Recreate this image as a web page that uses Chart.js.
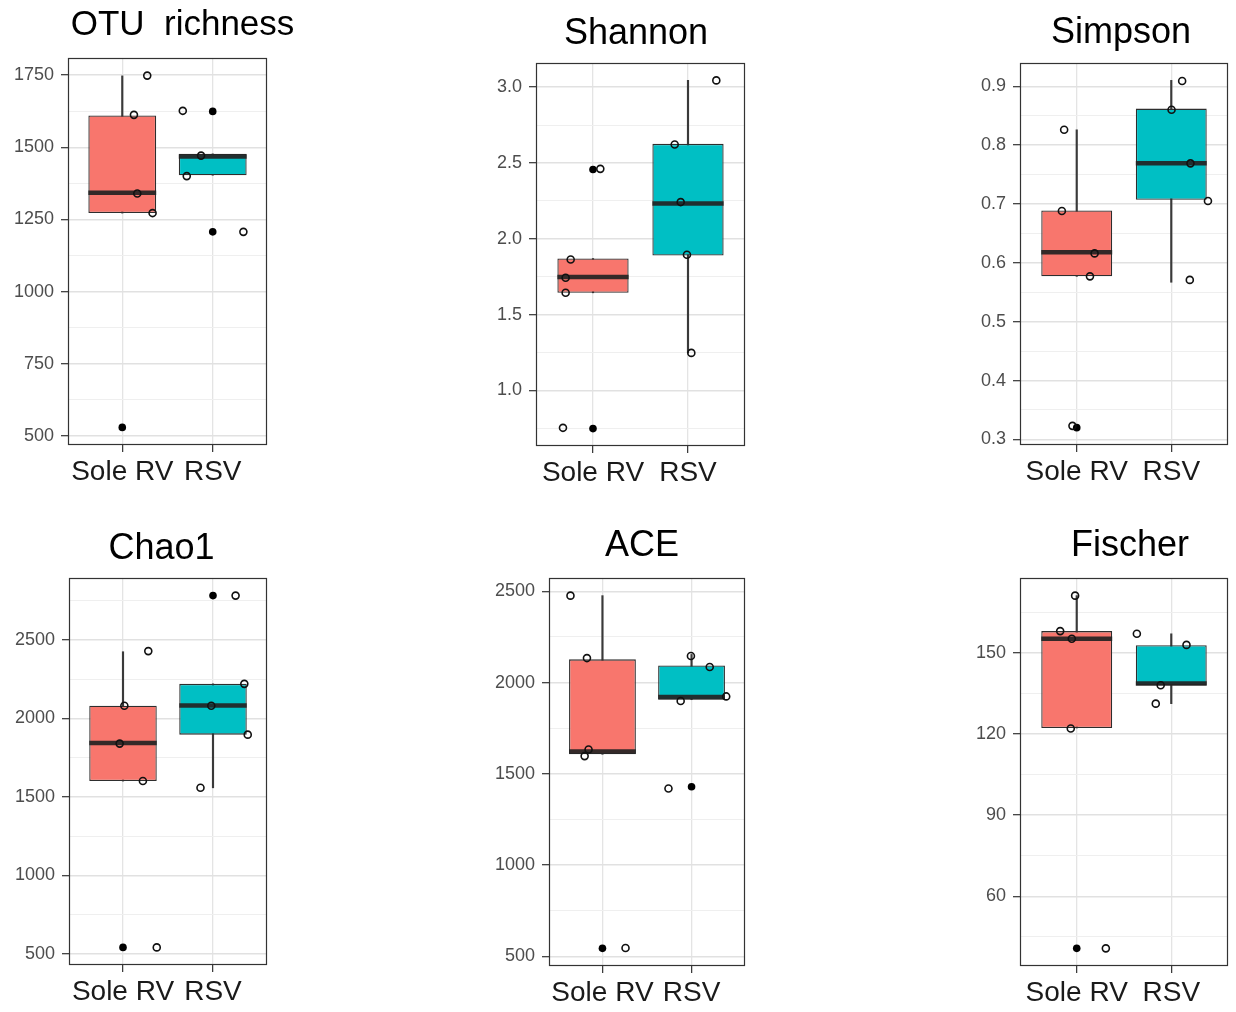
<!DOCTYPE html>
<html>
<head>
<meta charset="utf-8">
<script src="https://cdn.jsdelivr.net/npm/chart.js@4.4.1/dist/chart.umd.min.js"></script>
<style>
html, body { margin: 0; padding: 0; background: #ffffff; width: 1236px; height: 1012px; overflow: hidden; }
.panel { position: absolute; }
</style>
</head>
<body>
<script>
// ---------------- DATA ----------------
const categories = ['Sole RV', 'RSV'];

// OTU richness
const otuTicks = [500, 750, 1000, 1250, 1500, 1750];
const otuTickLabels = ['500', '750', '1000', '1250', '1500', '1750'];
const otuQ1 = [1272, 1403];
const otuMedian = [1342, 1468];
const otuQ3 = [1610, 1477];
const otuWhiskerLow = [1272, 1403];
const otuWhiskerHigh = [1747, 1477];
const otuOutlierGroup = [1, 2, 2];
const otuOutlierValue = [530, 1624, 1207];
const otuJitterX = [1.276, 1.129, 1.166, 1.335, 1.669, 1.871, 1.713, 2.339];
const otuJitterY = [1748, 1612, 1340, 1272, 1626, 1471, 1400, 1207];

// Shannon
const shannonTicks = [1.0, 1.5, 2.0, 2.5, 3.0];
const shannonTickLabels = ['1.0', '1.5', '2.0', '2.5', '3.0'];
const shannonQ1 = [1.644, 1.890];
const shannonMedian = [1.749, 2.233];
const shannonQ3 = [1.870, 2.626];
const shannonWhiskerLow = [1.644, 1.248];
const shannonWhiskerHigh = [1.870, 3.044];
const shannonOutlierGroup = [1, 1];
const shannonOutlierValue = [2.457, 0.749];
const shannonJitterX = [1.077, 0.765, 0.712, 0.712, 0.684, 2.298, 1.860, 1.923, 1.989, 2.035];
const shannonJitterY = [2.461, 1.864, 1.743, 1.644, 0.754, 3.044, 2.622, 2.242, 1.895, 1.248];

// Simpson
const simpsonTicks = [0.3, 0.4, 0.5, 0.6, 0.7, 0.8, 0.9];
const simpsonTickLabels = ['0.3', '0.4', '0.5', '0.6', '0.7', '0.8', '0.9'];
const simpsonQ1 = [0.577, 0.707];
const simpsonMedian = [0.618, 0.769];
const simpsonQ3 = [0.689, 0.862];
const simpsonWhiskerLow = [0.577, 0.567];
const simpsonWhiskerHigh = [0.826, 0.910];
const simpsonOutlierGroup = [1];
const simpsonOutlierValue = [0.320];
const simpsonJitterX = [0.867, 0.843, 1.189, 1.140, 0.955, 2.115, 2.003, 2.203, 2.388, 2.196];
const simpsonJitterY = [0.826, 0.688, 0.616, 0.577, 0.323, 0.909, 0.860, 0.769, 0.705, 0.571];

// Chao1
const chaoTicks = [500, 1000, 1500, 2000, 2500];
const chaoTickLabels = ['500', '1000', '1500', '2000', '2500'];
const chaoQ1 = [1601, 1897];
const chaoMedian = [1844, 2083];
const chaoQ3 = [2081, 2221];
const chaoWhiskerLow = [1601, 1558];
const chaoWhiskerHigh = [2426, 2221];
const chaoOutlierGroup = [1, 2];
const chaoOutlierValue = [540, 2784];
const chaoJitterX = [1.281, 1.015, 0.963, 1.221, 1.375, 2.251, 2.348, 1.981, 2.386, 1.861];
const chaoJitterY = [2430, 2081, 1840, 1601, 540, 2784, 2221, 2081, 1897, 1558];

// ACE
const aceTicks = [500, 1000, 1500, 2000, 2500];
const aceTickLabels = ['500', '1000', '1500', '2000', '2500'];
const aceQ1 = [1607, 1906];
const aceMedian = [1622, 1921];
const aceQ3 = [2127, 2094];
const aceWhiskerLow = [1607, 1906];
const aceWhiskerHigh = [2476, 2154];
const aceOutlierGroup = [1, 2];
const aceOutlierValue = [544, 1429];
const aceJitterX = [0.641, 0.826, 0.844, 0.800, 1.259, 1.741, 1.993, 2.204, 1.878, 2.389];
const aceJitterY = [2476, 2134, 1633, 1597, 546, 1420, 2145, 2085, 1899, 1924];

// Fischer
const fischerTicks = [60, 90, 120, 150];
const fischerTickLabels = ['60', '90', '120', '150'];
const fischerQ1 = [122.2, 138.0];
const fischerMedian = [155.2, 138.6];
const fischerQ3 = [158.0, 152.8];
const fischerWhiskerLow = [122.2, 131.2];
const fischerWhiskerHigh = [171.1, 157.0];
const fischerOutlierGroup = [1];
const fischerOutlierValue = [40.8];
const fischerJitterX = [0.983, 0.825, 0.948, 0.937, 1.308, 1.636, 2.161, 1.888, 1.836];
const fischerJitterY = [171.1, 158.0, 155.2, 122.0, 40.8, 157.0, 152.9, 138.0, 131.2];

// ---------------- STYLE / LAYOUT ----------------
const FILLS = ['#F8766D', '#00BFC4'];
const Y_AXIS_W = 68;
const X_AXIS_H = 46;

Chart.defaults.font.family = "'Liberation Sans', Arial, Helvetica, sans-serif";

const framePlugin = {
  id: 'frame',
  afterDraw(chart) {
    const a = chart.chartArea, ctx = chart.ctx;
    ctx.save();
    ctx.strokeStyle = '#333333';
    ctx.lineWidth = 1.2;
    ctx.strokeRect(Math.round(a.left) + 0.5, Math.round(a.top) + 0.5,
                   Math.round(a.right - a.left) - 1, Math.round(a.bottom - a.top) - 1);
    ctx.restore();
  }
};

function buildPanel(L, titleText, D) {
  const left = L.PL - Y_AXIS_W;
  const top = L.titleY - 21;
  // canvas is made wide enough that a full-width centred title lands on titleX
  const width = Math.max(2 * (L.titleX - left), L.PR - left);
  const rightW = width - (L.PR - left);
  const height = L.PB - top + X_AXIS_H;
  const wrap = document.createElement('div');
  wrap.className = 'panel';
  Object.assign(wrap.style, { left: left + 'px', top: top + 'px', width: width + 'px', height: height + 'px' });
  const cv = document.createElement('canvas');
  wrap.appendChild(cv);
  document.body.appendChild(wrap);

  const all = [].concat(D.jitY, D.outValue, D.wLow, D.wHigh);
  const lo = Math.min(...all), hi = Math.max(...all), pad = (hi - lo) * 0.05;
  const yMin = lo - pad, yMax = hi + pad;

  const step = D.ticks[1] - D.ticks[0];
  const tickObjs = D.ticks.map((v, i) => ({ value: v, lbl: D.tickLabels[i], minor: false }));
  [D.ticks[0] - step / 2].concat(D.ticks.map(v => v + step / 2))
    .filter(v => v > yMin && v < yMax)
    .forEach(v => tickObjs.push({ value: v, lbl: '', minor: true }));
  tickObjs.sort((a, b) => a.value - b.value);

  const ts = L.titleSize;
  const padTop = 21 - ts / 2;
  const padBottom = (L.PT - top) - padTop - ts;

  const halfBox = (ctx) => {
    const xs = ctx.chart.scales.x;
    return Math.abs(xs.getPixelForValue(1.375) - xs.getPixelForValue(0.625)) / 2;
  };

  new Chart(cv, {
    type: 'bar',
    data: {
      datasets: [
        {
          type: 'scatter', label: 'points', order: 0,
          data: D.jitX.map((x, i) => ({ x: x, y: D.jitY[i] })),
          pointRadius: 3.5, pointBorderWidth: 1.6,
          pointBackgroundColor: 'rgba(0,0,0,0)', pointBorderColor: '#111111'
        },
        {
          type: 'scatter', label: 'outliers', order: 1,
          data: D.outGroup.map((g, i) => ({ x: g, y: D.outValue[i] })),
          pointRadius: 3.8, pointBorderWidth: 0,
          pointBackgroundColor: '#000000', pointBorderColor: '#000000'
        },
        {
          type: 'scatter', label: 'median', order: 2,
          data: D.median.map((m, i) => ({ x: i + 1, y: m })),
          pointStyle: 'line', pointRadius: halfBox, pointBorderWidth: 4.5,
          pointBorderColor: 'rgba(35,35,35,0.92)', pointBackgroundColor: 'rgba(0,0,0,0)'
        },
        {
          type: 'bar', label: 'box', order: 3,
          data: D.q1.map((q, i) => ({ x: i + 1, y: [q, D.q3[i]] })),
          backgroundColor: FILLS, borderColor: '#2e2e2e', borderWidth: 1.3,
          borderSkipped: false, grouped: false, barPercentage: 0.75, categoryPercentage: 1
        },
        {
          type: 'bar', label: 'whisker', order: 4,
          data: D.wLow.map((w, i) => ({ x: i + 1, y: [w, D.wHigh[i]] })),
          backgroundColor: '#3a3a3a', borderWidth: 0, grouped: false,
          barPercentage: 1, categoryPercentage: 1, maxBarThickness: 1.5
        }
      ]
    },
    options: {
      responsive: true,
      maintainAspectRatio: false,
      animation: false,
      events: [],
      layout: { padding: 0 },
      plugins: {
        legend: { display: false },
        tooltip: { enabled: false },
        title: {
          display: true, text: titleText, align: 'center', fullSize: true,
          color: '#000000', font: { size: ts, weight: 'normal', lineHeight: 1 },
          padding: { top: padTop, bottom: padBottom }
        }
      },
      scales: {
        x: {
          type: 'linear', min: 0.4, max: 2.6, offset: false,
          afterBuildTicks: (s) => { s.ticks = categories.map((c, i) => ({ value: i + 1 })); },
          afterFit: (s) => { s.height = X_AXIS_H; },
          ticks: {
            autoSkip: false, maxRotation: 0, padding: 3,
            color: '#1a1a1a', font: { size: 28 },
            callback: (v) => categories[Math.round(v) - 1]
          },
          grid: {
            offset: false, color: '#e4e4e4', lineWidth: 1.3,
            tickColor: '#333333', tickWidth: 1.2, tickLength: 7
          },
          border: { display: false }
        },
        y: {
          type: 'linear', position: 'left', min: yMin, max: yMax,
          afterBuildTicks: (s) => { s.ticks = tickObjs.map(t => Object.assign({}, t)); },
          afterFit: (s) => { s.width = Y_AXIS_W; },
          ticks: {
            autoSkip: false, padding: 7, color: '#4d4d4d', font: { size: 18 },
            callback: (v, i, ticks) => ticks[i].lbl
          },
          grid: {
            color: (c) => (c.tick && c.tick.minor) ? '#efefef' : '#e1e1e1',
            lineWidth: (c) => (c.tick && c.tick.minor) ? 1 : 1.4,
            tickColor: (c) => (c.tick && c.tick.minor) ? 'rgba(0,0,0,0)' : '#333333',
            tickWidth: 1.2, tickLength: 7
          },
          border: { display: false }
        },
        spacer: {
          type: 'linear', position: 'right', display: true,
          afterFit: (s) => { s.width = rightW; },
          ticks: { display: false },
          grid: { display: false, drawOnChartArea: false, drawTicks: false },
          border: { display: false }
        }
      }
    },
    plugins: [framePlugin]
  });
}

const panelLayouts = [
  { PL: 68,   PT: 58,  PR: 267,  PB: 445, titleY: 25,  titleX: 182.5, titleSize: 35 },
  { PL: 536,  PT: 63,  PR: 745,  PB: 446, titleY: 34,  titleX: 636,   titleSize: 36 },
  { PL: 1020, PT: 63,  PR: 1228, PB: 445, titleY: 33,  titleX: 1121,  titleSize: 36 },
  { PL: 69,   PT: 578, PR: 267,  PB: 965, titleY: 549, titleX: 161.5, titleSize: 36 },
  { PL: 549,  PT: 578, PR: 745,  PB: 966, titleY: 546, titleX: 642,   titleSize: 36 },
  { PL: 1020, PT: 578, PR: 1228, PB: 966, titleY: 546, titleX: 1130,  titleSize: 36 }
];

buildPanel(panelLayouts[0], 'OTU  richness', {
  ticks: otuTicks, tickLabels: otuTickLabels, q1: otuQ1, median: otuMedian, q3: otuQ3,
  wLow: otuWhiskerLow, wHigh: otuWhiskerHigh, outGroup: otuOutlierGroup, outValue: otuOutlierValue,
  jitX: otuJitterX, jitY: otuJitterY });
buildPanel(panelLayouts[1], 'Shannon', {
  ticks: shannonTicks, tickLabels: shannonTickLabels, q1: shannonQ1, median: shannonMedian, q3: shannonQ3,
  wLow: shannonWhiskerLow, wHigh: shannonWhiskerHigh, outGroup: shannonOutlierGroup, outValue: shannonOutlierValue,
  jitX: shannonJitterX, jitY: shannonJitterY });
buildPanel(panelLayouts[2], 'Simpson', {
  ticks: simpsonTicks, tickLabels: simpsonTickLabels, q1: simpsonQ1, median: simpsonMedian, q3: simpsonQ3,
  wLow: simpsonWhiskerLow, wHigh: simpsonWhiskerHigh, outGroup: simpsonOutlierGroup, outValue: simpsonOutlierValue,
  jitX: simpsonJitterX, jitY: simpsonJitterY });
buildPanel(panelLayouts[3], 'Chao1', {
  ticks: chaoTicks, tickLabels: chaoTickLabels, q1: chaoQ1, median: chaoMedian, q3: chaoQ3,
  wLow: chaoWhiskerLow, wHigh: chaoWhiskerHigh, outGroup: chaoOutlierGroup, outValue: chaoOutlierValue,
  jitX: chaoJitterX, jitY: chaoJitterY });
buildPanel(panelLayouts[4], 'ACE', {
  ticks: aceTicks, tickLabels: aceTickLabels, q1: aceQ1, median: aceMedian, q3: aceQ3,
  wLow: aceWhiskerLow, wHigh: aceWhiskerHigh, outGroup: aceOutlierGroup, outValue: aceOutlierValue,
  jitX: aceJitterX, jitY: aceJitterY });
buildPanel(panelLayouts[5], 'Fischer', {
  ticks: fischerTicks, tickLabels: fischerTickLabels, q1: fischerQ1, median: fischerMedian, q3: fischerQ3,
  wLow: fischerWhiskerLow, wHigh: fischerWhiskerHigh, outGroup: fischerOutlierGroup, outValue: fischerOutlierValue,
  jitX: fischerJitterX, jitY: fischerJitterY });
</script>
</body>
</html>
